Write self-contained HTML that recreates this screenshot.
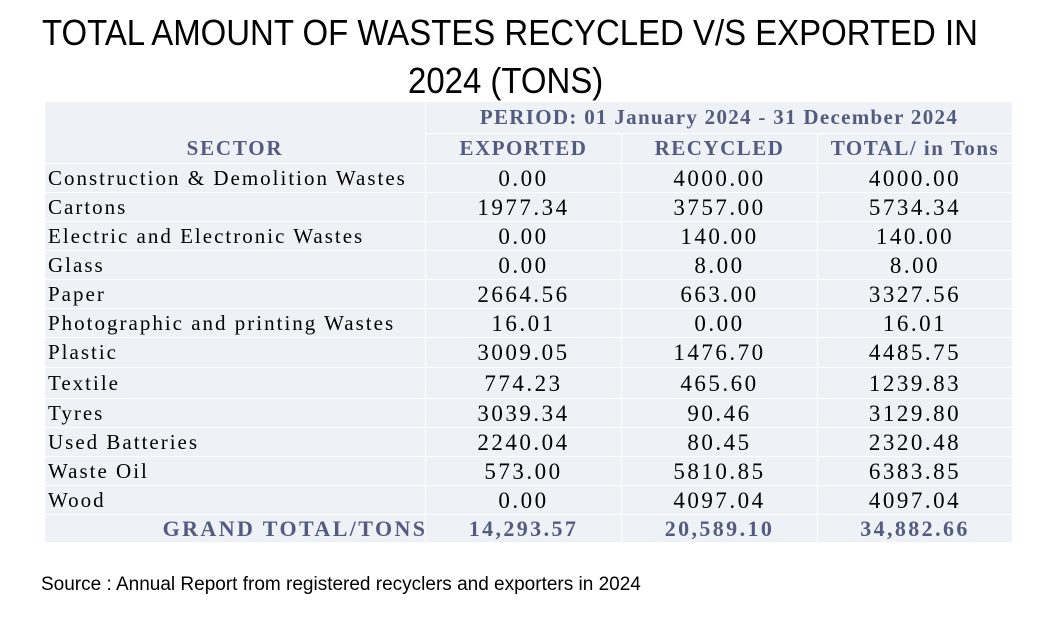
<!DOCTYPE html>
<html><head><style>
body{margin:0;width:1038px;height:620px;background:#fff;position:relative;overflow:hidden;font-family:"Liberation Serif",serif}
.t{position:absolute;font-family:"Liberation Sans",sans-serif;font-size:36px;color:#000;white-space:nowrap;transform:scaleX(0.915);transform-origin:0 0}
.c{position:absolute;background:#eef1f5;box-sizing:border-box;font-size:21px;line-height:1;display:flex;align-items:center;white-space:nowrap}
.h{color:#535c7e;font-weight:bold;justify-content:center;letter-spacing:1.5px}
.g{font-size:22px;letter-spacing:2.4px}
.n{justify-content:center;font-size:23px;letter-spacing:2.5px}
.s{padding-left:3px;letter-spacing:2px}
.src{position:absolute;left:41px;top:574px;font-family:"Liberation Sans",sans-serif;font-size:19px}
</style></head><body>
<div class="t" style="left:42px;top:12px">TOTAL AMOUNT OF WASTES RECYCLED V/S EXPORTED IN</div>
<div class="t" style="left:408px;top:60px">2024 (TONS)</div>
<div id="tb"></div>
<div class="src">Source : Annual Report from registered recyclers and exporters in 2024</div>
<script>
var X=[45,426,622,818,1013];
var Y=[164,193,222,251,280,309,338,368,399,428,457,486,515,543];
var rows=[["Construction & Demolition Wastes","0.00","4000.00","4000.00"],["Cartons","1977.34","3757.00","5734.34"],["Electric and Electronic Wastes","0.00","140.00","140.00"],["Glass","0.00","8.00","8.00"],["Paper","2664.56","663.00","3327.56"],["Photographic and printing Wastes","16.01","0.00","16.01"],["Plastic","3009.05","1476.70","4485.75"],["Textile","774.23","465.60","1239.83"],["Tyres","3039.34","90.46","3129.80"],["Used Batteries","2240.04","80.45","2320.48"],["Waste Oil","573.00","5810.85","6383.85"],["Wood","0.00","4097.04","4097.04"],["GRAND TOTAL/TONS","14,293.57","20,589.10","34,882.66"]];
var h="";
function cell(x1,y1,x2,y2,cls,txt,st){h+='<div class="c '+cls+'" style="left:'+x1+'px;top:'+y1+'px;width:'+(x2-x1-1)+'px;height:'+(y2-y1-1)+'px;'+(st||'')+'">'+txt+'</div>';}
cell(45,102,426,164,"h","SECTOR","align-items:flex-end;padding-bottom:4px;letter-spacing:1.8px");
cell(426,102,1013,134,"h","PERIOD: 01 January 2024 - 31 December 2024","letter-spacing:1.3px");
cell(426,134,622,164,"h","EXPORTED");cell(622,134,818,164,"h","RECYCLED");cell(818,134,1013,164,"h","TOTAL/ in Tons");
rows.forEach(function(r,i){var g=i==12;for(var j=0;j<4;j++){cell(X[j],Y[i],X[j+1],Y[i+1],g?"h g":(j==0?"s":"n"),r[j].replace("&","&amp;"),(g&&j==0)?"padding-left:120px":"");}});
document.getElementById("tb").innerHTML=h;
</script>
</body></html>
